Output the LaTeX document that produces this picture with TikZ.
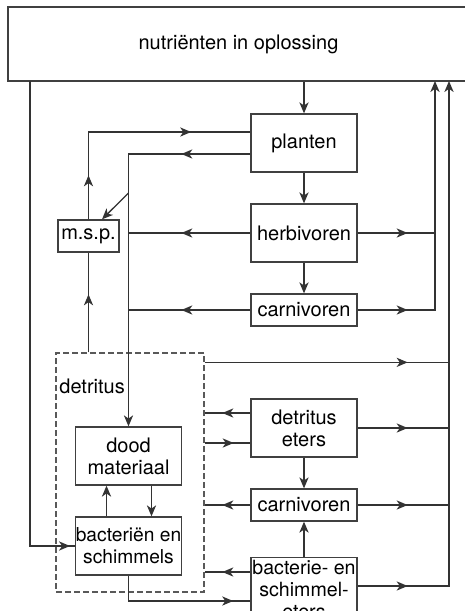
\documentclass[tikz,border=0pt]{standalone}
\usepackage{fontspec}
\setmainfont{TeX Gyre Heros}
\usetikzlibrary{arrows.meta, decorations.markings}
\tikzstyle{vak} = [rectangle,
minimum width=53pt,
minimum height=29pt,
inner sep=1pt,
align=center,
draw=black!75,
line width=0.65pt,
font=\fontsize{10}{11}\selectfont]
\tikzstyle{lijn} = [draw=black!80, line width=0.65pt]
\tikzstyle{arrow} = [lijn,->]
\tikzset{pijl/.style={lijn, postaction={decorate,
  decoration={markings, mark=at position #1 with {\arrow{>}}}}},
  pijl/.default=0.5}

\begin{document}
\begin{tikzpicture}[x=0.5pt, y=-0.5pt, >={Stealth[length=5.5pt, width=4.6pt, inset=1.6pt]}]
  \clip[use as bounding box] (0,0) rectangle (465,611);
  \node (nutr) [vak, minimum width=230.5pt, minimum height=37pt] at (238.5,44) {nutriënten in oplossing};
  \node (planten) [vak] at (304,143) {planten};
  \node (herbi) [vak, below of=planten, node distance=45pt] {herbivoren};
  \node (carni) [vak, minimum height=16pt, below of=herbi, node distance=38.5pt] {carnivoren};
  \node (msp) [vak, minimum width=30.5pt, minimum height=16pt] at (88.5,236) {m.s.p.};
  % detritus-deel
  \node (detritus) [draw=black!65, line width=0.65pt, dash pattern=on 3pt off 1.5pt,
    minimum width=74pt, minimum height=119.5pt, inner sep=0pt] at (130,472.5) {};
  \node (dettekst) [anchor=west, inner sep=0pt, font=\fontsize{10}{11}\selectfont] at (59,386) {detritus};
  \node (dood) [vak] at (128.5,456) {dood\\materiaal};
  \node (bact) [vak, inner xsep=0pt, below of=dood, node distance=45pt,
    font=\fontsize{9.6}{11}\selectfont] {bacteriën en\\schimmels};
  \node (deteters) [vak, below of=carni, node distance=59pt] {detritus\\eters};
  \node (carnitwee) [vak, minimum height=16pt, below of=deteters, node distance=38.5pt] {carnivoren};
  \node (bceters) [vak, anchor=north, inner xsep=0pt, inner ysep=1.5pt,
    font=\fontsize{9.8}{11}\selectfont] at (304,557) {bacterie- en\\schimmel-\\eters};

  \coordinate (links) at (30,81);
  \coordinate (op1) at (435,81);
  \coordinate (op2) at (449,81);
  \coordinate (knik) at (128.5,193);
  \coordinate (d1) at ([yshift=7.5pt]deteters.west);
  \coordinate (d2) at ([yshift=-7.5pt]deteters.west);
  \coordinate (b1) at ([yshift=-7.5pt]bceters.north west);
  \coordinate (b2) at ([yshift=-14.5pt]bceters.north east);
  \coordinate (b3) at ([yshift=-22pt]bceters.north west);
  \coordinate (r1) at ([yshift=-5pt]detritus.north east);

  \draw [arrow] (nutr.south -| planten) -- (planten);
  \draw [arrow] (planten) -- (herbi);
  \draw [arrow] (herbi) -- (carni);
  \draw [pijl=22pt, pijl=95pt] (msp.north) |- ([yshift=5.5pt]planten.west);
  \draw [arrow, pijl=34.5pt] ([yshift=-5.5pt]planten.west) -| (dood.north);
  \draw [arrow] (knik) -- ([xshift=6.75pt]msp.north);
  \draw [pijl=34.5pt] (herbi.west) -- (herbi.west -| dood.north);
  \draw [pijl=34.5pt] (carni.west) -- (carni.west -| dood.north);
  \draw [pijl=25pt] (herbi.east) -- (herbi.east -| op1);
  \draw [arrow, pijl=25pt] (carni.east) -| (op1);
  \draw [pijl=29pt] (detritus.north -| msp) -- (msp.south);
  \draw [pijl=101.5pt] (r1) -- (r1 -| op2);
  \draw [pijl=25pt] (deteters.east) -- (deteters.east -| op2);
  \draw [pijl=25pt] (carnitwee.east) -- (carnitwee.east -| op2);
  \draw [arrow, pijl=25pt] (b2) -| (op2);
  \draw [pijl=14pt] (d1) -- (d1 -| detritus.east);
  \draw [pijl=14.5pt] (d2 -| detritus.east) -- (d2);
  \draw [pijl=14pt] (carnitwee.west) -- (carnitwee.west -| detritus.east);
  \draw [pijl=14pt] (b1) -- (b1 -| detritus.east);
  \draw [arrow] (deteters) -- (carnitwee);
  \draw [arrow] (bceters) -- (carnitwee);
  \draw [pijl=65pt] (bact.south) |- (b3);
  \draw [arrow] ([xshift=-11pt]bact.north) -- ([xshift=-11pt]dood.south);
  \draw [arrow] ([xshift=11.5pt]dood.south) -- ([xshift=11.5pt]bact.north);
  \draw [pijl=252.5pt] (links) |- (bact.west);
\end{tikzpicture}
\end{document}
